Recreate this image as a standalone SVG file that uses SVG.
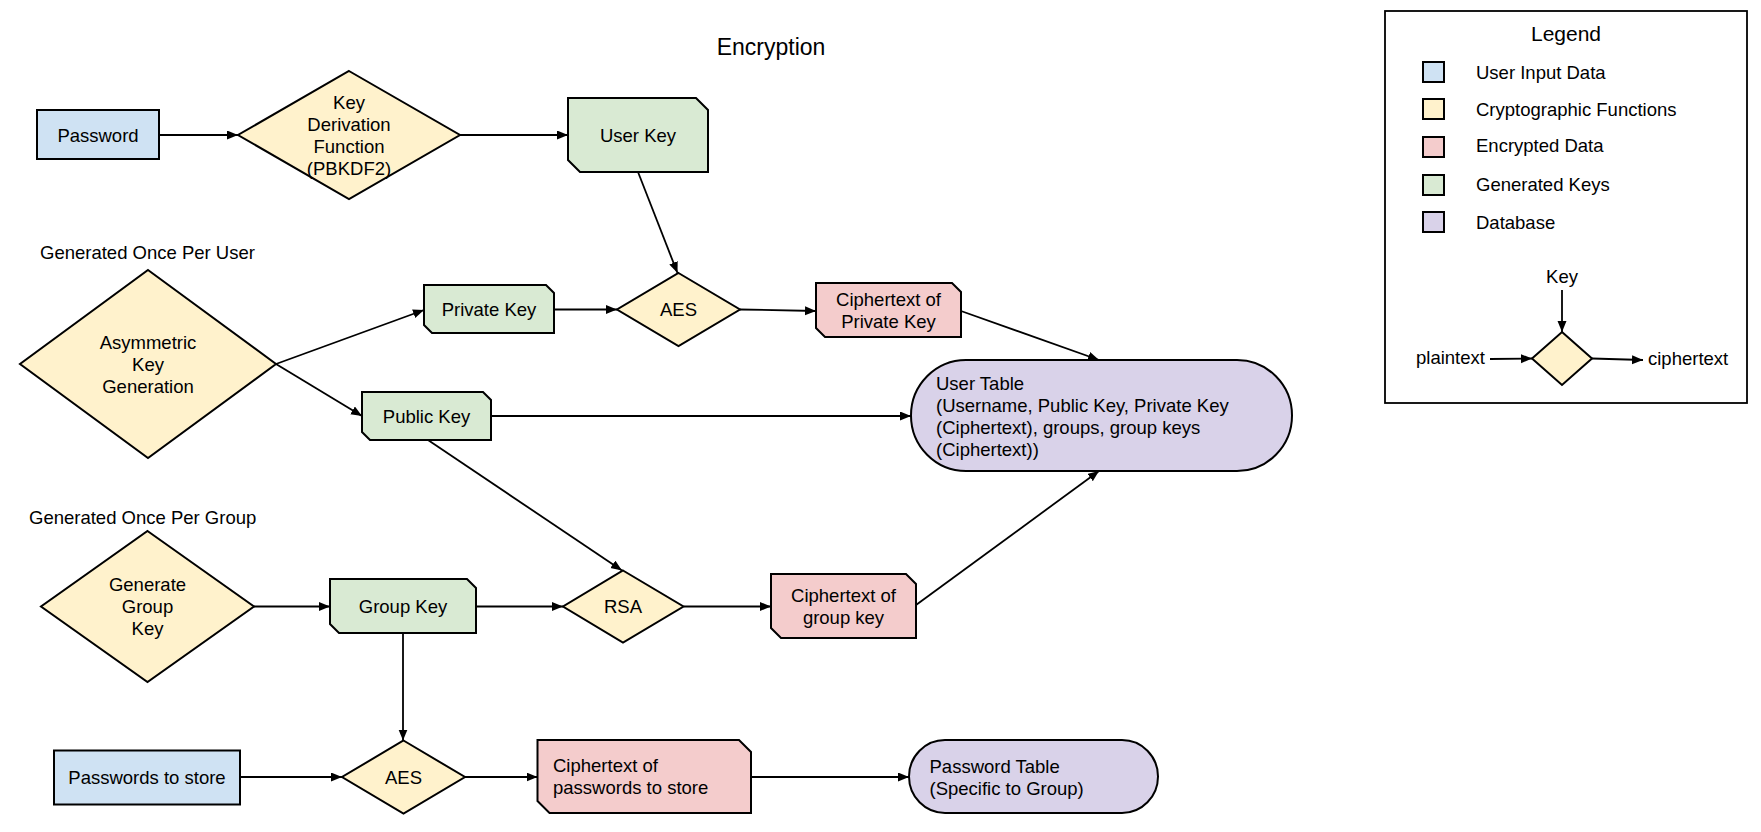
<svg xmlns="http://www.w3.org/2000/svg" width="1761" height="832" viewBox="0 0 1761 832">
<style>
  text { font-family: "Liberation Sans", Arial, sans-serif; font-size: 18.5px; fill: #000; }
  .c { text-anchor: middle; }
  .shape { stroke: #000; stroke-width: 2; }
  .input { fill: #cfe2f3; }
  .func { fill: #fff2cc; }
  .enc { fill: #f4cccc; }
  .key { fill: #d9ead3; }
  .db { fill: #d9d2e9; }
  .conn path { fill: none; stroke: #000; stroke-width: 1.8; marker-end: url(#arrow); }
</style>
<defs>
  <marker id="arrow" markerUnits="userSpaceOnUse" markerWidth="12" markerHeight="10" refX="11" refY="4.5" orient="auto">
    <path d="M0,0 L11,4.5 L0,9 Z" fill="#000"/>
  </marker>
</defs>
<rect width="1761" height="832" fill="#fff"/>

<text id="title" class="c" x="771" y="55" style="font-size:23px">Encryption</text>

<g id="password">
  <rect class="shape input" x="37" y="110" width="122" height="49"/>
  <text class="c" x="98" y="141.5">Password</text>
</g>
<g id="kdf">
  <path class="shape func" d="M349,71 L460,135 L349,199 L238,135 Z"/>
  <text class="c" x="349" y="109">Key</text>
  <text class="c" x="349" y="131">Derivation</text>
  <text class="c" x="349" y="153">Function</text>
  <text class="c" x="349" y="175">(PBKDF2)</text>
</g>
<g id="userkey">
  <path class="shape key" d="M568,98 L696,98 L708,110 L708,172 L580,172 L568,160 Z"/>
  <text class="c" x="638" y="141.5">User Key</text>
</g>

<text id="label-user" x="40" y="258.5">Generated Once Per User</text>
<g id="asymgen">
  <path class="shape func" d="M148,270 L276,364 L148,458 L20,364 Z"/>
  <text class="c" x="148" y="348.6">Asymmetric</text>
  <text class="c" x="148" y="370.6">Key</text>
  <text class="c" x="148" y="392.6">Generation</text>
</g>
<g id="privatekey">
  <path class="shape key" d="M424,285 L546,285 L554,293 L554,333 L432,333 L424,325 Z"/>
  <text class="c" x="489" y="315.5">Private Key</text>
</g>
<g id="aes1">
  <path class="shape func" d="M678.5,273 L740,309.5 L678.5,346 L617,309.5 Z"/>
  <text class="c" x="678.5" y="316">AES</text>
</g>
<g id="ctprivate">
  <path class="shape enc" d="M816,283 L952,283 L961,292 L961,337 L825,337 L816,328 Z"/>
  <text class="c" x="888.5" y="305.6">Ciphertext of</text>
  <text class="c" x="888.5" y="327.6">Private Key</text>
</g>
<g id="publickey">
  <path class="shape key" d="M362,392 L483,392 L491,400 L491,440 L370,440 L362,432 Z"/>
  <text class="c" x="426.5" y="422.5">Public Key</text>
</g>
<g id="usertable">
  <rect class="shape db" x="911" y="360" width="381" height="111" rx="55" ry="55.5"/>
  <text x="936" y="390">User Table</text>
  <text x="936" y="412">(Username, Public Key, Private Key</text>
  <text x="936" y="434">(Ciphertext), groups, group keys</text>
  <text x="936" y="456">(Ciphertext))</text>
</g>

<text id="label-group" x="29" y="523.5">Generated Once Per Group</text>
<g id="gengroup">
  <path class="shape func" d="M147.5,531 L254,606.5 L147.5,682 L41,606.5 Z"/>
  <text class="c" x="147.5" y="591">Generate</text>
  <text class="c" x="147.5" y="613">Group</text>
  <text class="c" x="147.5" y="635">Key</text>
</g>
<g id="groupkey">
  <path class="shape key" d="M330,579 L467,579 L476,588 L476,633 L339,633 L330,624 Z"/>
  <text class="c" x="403" y="613">Group Key</text>
</g>
<g id="rsa">
  <path class="shape func" d="M623,570.5 L683.5,606.5 L623,642.5 L563,606.5 Z"/>
  <text class="c" x="623" y="613">RSA</text>
</g>
<g id="ctgroup">
  <path class="shape enc" d="M771,574 L906,574 L916,584 L916,638 L781,638 L771,628 Z"/>
  <text class="c" x="843.5" y="602">Ciphertext of</text>
  <text class="c" x="843.5" y="624">group key</text>
</g>
<g id="passwords">
  <rect class="shape input" x="54" y="750.5" width="186" height="54"/>
  <text class="c" x="147" y="783.5">Passwords to store</text>
</g>
<g id="aes2">
  <path class="shape func" d="M403.5,740.5 L465,777 L403.5,813.5 L342,777 Z"/>
  <text class="c" x="403.5" y="783.5">AES</text>
</g>
<g id="ctpasswords">
  <path class="shape enc" d="M537.5,740 L739,740 L751,752 L751,813 L549.5,813 L537.5,801 Z"/>
  <text x="553" y="772">Ciphertext of</text>
  <text x="553" y="794">passwords to store</text>
</g>
<g id="passwordtable">
  <rect class="shape db" x="909" y="740" width="249" height="73" rx="36" ry="36.5"/>
  <text x="929.5" y="772.5">Password Table</text>
  <text x="929.5" y="794.5">(Specific to Group)</text>
</g>

<g id="legend">
  <rect x="1385" y="11" width="362" height="392" fill="#fff" stroke="#000" stroke-width="1.8"/>
  <text class="c" x="1566" y="41" style="font-size:21px">Legend</text>
  <rect class="shape input" x="1423" y="62" width="21" height="20" stroke-width="1.2"/>
  <text x="1476" y="79">User Input Data</text>
  <rect class="shape func" x="1423" y="99" width="21" height="20" stroke-width="1.2"/>
  <text x="1476" y="115.5">Cryptographic Functions</text>
  <rect class="shape enc" x="1423" y="137" width="21" height="20" stroke-width="1.2"/>
  <text x="1476" y="151.5">Encrypted Data</text>
  <rect class="shape key" x="1423" y="175" width="21" height="20" stroke-width="1.2"/>
  <text x="1476" y="191">Generated Keys</text>
  <rect class="shape db" x="1423" y="212" width="21" height="20" stroke-width="1.2"/>
  <text x="1476" y="229">Database</text>
  <path class="shape func" d="M1562,332 L1592,358.5 L1562,385 L1532,358.5 Z"/>
  <text class="c" x="1562" y="283">Key</text>
  <text x="1416" y="364">plaintext</text>
  <text x="1648" y="365">ciphertext</text>
</g>

<g id="connectors" class="conn">
  <path d="M159,135 L238,135"/>
  <path d="M460,135 L568,135"/>
  <path d="M638,172 L677.5,273"/>
  <path d="M276,364 L424,310"/>
  <path d="M276,364 L362,416"/>
  <path d="M554,309.5 L617,309.5"/>
  <path d="M740,309.5 L816,311"/>
  <path d="M961,311 L1099,360"/>
  <path d="M491,416 L911,416"/>
  <path d="M428,440 L622,570.5"/>
  <path d="M254,606.5 L330,606.5"/>
  <path d="M476,606.5 L563,606.5"/>
  <path d="M683.5,606.5 L771,606.5"/>
  <path d="M916,605 L1099,471"/>
  <path d="M403,633 L403,740.5"/>
  <path d="M240,777 L342,777"/>
  <path d="M465,777 L537.5,777"/>
  <path d="M751,777 L909,777"/>
  <path d="M1562,290 L1562,332"/>
  <path d="M1490,359 L1532,358.5"/>
  <path d="M1592,358.5 L1643,360"/>
</g>
</svg>
